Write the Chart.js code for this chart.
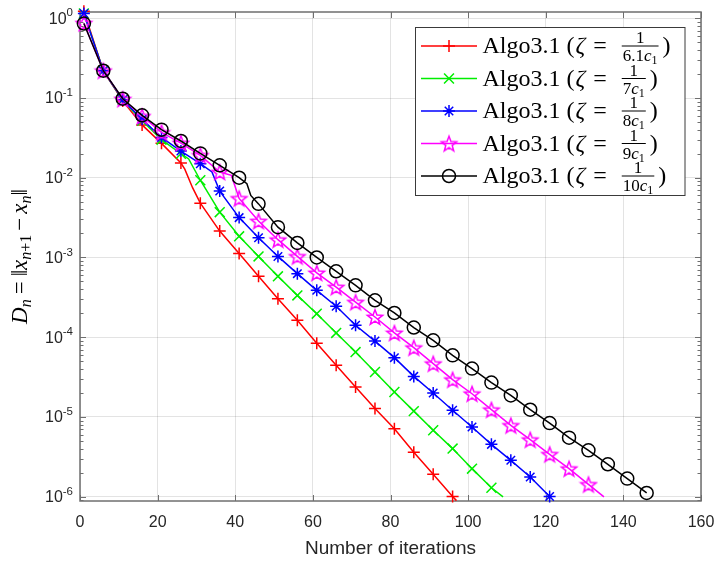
<!DOCTYPE html>
<html lang="en">
<head>
<meta charset="UTF-8" />
<title>Algo3.1 convergence</title>
<script src="https://cdn.jsdelivr.net/npm/chart.js"></script>
<style>
  html, body { margin: 0; padding: 0; background: #fff; }
  #wrap { width: 717px; height: 565px; }
</style>
</head>
<body>
<div id="wrap"><canvas id="chart" width="717" height="565"></canvas></div>
<script>
// values (markers every 5 iterations, plus a few bends)
const iterRed = [1, 6, 11, 16, 21, 26, 27, 29, 31, 36, 41, 46, 51, 56, 61, 66, 71, 76, 81, 86, 91, 96, 97];
const distRed = [1.23, 0.22, 0.092, 0.046, 0.027, 0.0153, 0.0128, 0.0075, 0.0048, 0.00214, 0.00112, 0.00058,
  0.000304, 0.000163, 8.4e-5, 4.43e-5, 2.37e-5, 1.27e-5, 7.1e-6, 3.6e-6, 1.9e-6, 1.0e-6, 8.9e-7];

const iterGreen = [1, 6, 11, 16, 21, 26, 28, 31, 36, 41, 46, 51, 56, 61, 66, 71, 76, 81, 86, 91, 96, 101, 106, 109];
const distGreen = [1.15, 0.22, 0.094, 0.052, 0.030, 0.020, 0.0172, 0.0093, 0.0037, 0.00184, 0.00103, 0.00058,
  0.000334, 0.000197, 0.000113, 6.5e-5, 3.65e-5, 2.05e-5, 1.18e-5, 6.8e-6, 4.0e-6, 2.24e-6, 1.29e-6, 9.9e-7];

const iterBlue = [1, 6, 11, 16, 21, 26, 31, 34, 36, 41, 46, 51, 56, 61, 66, 71, 76, 81, 86, 91, 96, 101, 106, 111, 116, 121];
const distBlue = [1.15, 0.22, 0.095, 0.054, 0.032, 0.0216, 0.015, 0.0118, 0.0068, 0.00316, 0.00177, 0.00103,
  0.000626, 0.000387, 0.000244, 1.41e-4, 8.93e-5, 5.53e-5, 3.22e-5, 1.99e-5, 1.21e-5, 7.45e-6, 4.52e-6,
  2.85e-6, 1.76e-6, 1.0e-6];

const iterMagenta = [1, 6, 11, 16, 21, 26, 31, 36, 39, 41, 46, 51, 56, 61, 66, 71, 76, 81, 86, 91, 96, 101, 106,
  111, 116, 121, 126, 131, 135];
const distMagenta = [0.87, 0.22, 0.097, 0.059, 0.037, 0.0272, 0.0191, 0.0118, 0.0107, 0.0055, 0.00286, 0.00167,
  0.00103, 0.00064, 0.000425, 2.75e-4, 1.79e-4, 1.13e-4, 7.38e-5, 4.65e-5, 2.93e-5, 1.95e-5, 1.23e-5,
  7.82e-6, 5.18e-6, 3.39e-6, 2.24e-6, 1.42e-6, 9.9e-7];

const iterBlack = [1, 6, 11, 16, 21, 26, 31, 36, 41, 43, 44, 46, 51, 56, 61, 66, 71, 76, 81, 86, 91, 96, 101, 106,
  111, 116, 121, 126, 131, 136, 141, 146];
const distBlack = [0.86, 0.22, 0.098, 0.0607, 0.0401, 0.0289, 0.0202, 0.0143, 0.0100, 0.0084, 0.0060, 0.0047,
  0.0024, 0.00152, 0.00100, 0.00067, 4.47e-4, 2.9e-4, 2.01e-4, 1.32e-4, 9.12e-5, 5.91e-5, 4.03e-5, 2.69e-5,
  1.86e-5, 1.23e-5, 8.36e-6, 5.48e-6, 3.8e-6, 2.54e-6, 1.68e-6, 1.11e-6];

const xTicks = [0, 20, 40, 60, 80, 100, 120, 140, 160];
const yTicks = [1e-6, 1e-5, 1e-4, 1e-3, 1e-2, 1e-1, 1];
const zetaDenoms = ['6.1', '7', '8', '9', '10'];

const axisGray = '#6f6f6f';
const textGray = '#262626';
const gridGray = 'rgba(38,38,38,0.13)';
const sans = '"Liberation Sans", Arial, sans-serif';
const serif = '"Liberation Serif", serif';

function makePentagram(color, r) {
  const c = document.createElement('canvas');
  const s = Math.ceil(2 * r + 4);
  c.width = s; c.height = s;
  const g = c.getContext('2d');
  g.translate(s / 2, s / 2 + 0.8);
  g.beginPath();
  for (let i = 0; i < 10; i++) {
    const a = -Math.PI / 2 + i * Math.PI / 5;
    const rr = i % 2 === 0 ? r : r * 0.42;
    g.lineTo(rr * Math.cos(a), rr * Math.sin(a));
  }
  g.closePath();
  g.strokeStyle = color;
  g.lineWidth = 1.5;
  g.stroke();
  return c;
}

const styles = [
  { color: '#ff0000', point: 'cross', radius: 6 },
  { color: '#00ee00', point: 'crossRot', radius: 7 },
  { color: '#0000ff', point: 'star', radius: 6 },
  { color: '#ff00ff', point: makePentagram('#ff00ff', 8), radius: 8 },
  { color: '#000000', point: 'circle', radius: 6.5 }
];
const seriesX = [iterRed, iterGreen, iterBlue, iterMagenta, iterBlack];
const seriesY = [distRed, distGreen, distBlue, distMagenta, distBlack];

const datasets = seriesX.map((xs, i) => ({
  label: 'Algo3.1 (zeta = 1/' + zetaDenoms[i] + 'c1)',
  data: xs.map((x, j) => ({ x: x, y: seriesY[i][j] })),
  borderColor: styles[i].color,
  backgroundColor: 'transparent',
  borderWidth: 1.5,
  pointStyle: styles[i].point,
  pointBorderColor: styles[i].color,
  pointBackgroundColor: 'transparent',
  pointBorderWidth: 1.5,
  pointRadius: ctx => (ctx.raw && ctx.raw.x % 5 === 1 ? styles[i].radius : 0),
  tension: 0,
  clip: false,
  order: 5 - i
}));

// draws pieces of text one after another; returns total width
function richText(ctx, parts, x, y, draw) {
  let w = 0;
  parts.forEach(p => {
    ctx.font = p.font;
    if (draw) ctx.fillText(p.t, x + w, y + (p.dy || 0));
    w += ctx.measureText(p.t).width + (p.gap || 0);
  });
  return w;
}

const framePlugin = {
  id: 'frame',
  beforeDatasetsDraw(chart) {
    const { ctx, chartArea: a, scales: { x, y } } = chart;
    ctx.save();
    ctx.strokeStyle = axisGray;
    ctx.lineWidth = 1;
    ctx.beginPath();
    xTicks.forEach(v => {
      const px = Math.round(x.getPixelForValue(v)) + 0.5;
      ctx.moveTo(px, a.bottom); ctx.lineTo(px, a.bottom - 6);
      ctx.moveTo(px, a.top); ctx.lineTo(px, a.top + 6);
    });
    for (let k = -7; k <= 0; k++) {
      for (let m = 1; m <= 9; m++) {
        const v = m * Math.pow(10, k);
        if (v < y.min || v > y.max) continue;
        const py = Math.round(y.getPixelForValue(v)) + 0.5;
        const len = m === 1 ? 6 : 3.5;
        ctx.moveTo(a.left, py); ctx.lineTo(a.left + len, py);
        ctx.moveTo(a.right, py); ctx.lineTo(a.right - len, py);
      }
    }
    ctx.stroke();
    ctx.lineWidth = 1.5;
    ctx.strokeRect(a.left, a.top, a.right - a.left, a.bottom - a.top);
    ctx.restore();
  }
};

const textPlugin = {
  id: 'texts',
  afterDraw(chart) {
    const { ctx, chartArea: a, scales: { y } } = chart;
    ctx.save();
    ctx.fillStyle = textGray;
    ctx.textBaseline = 'middle';

    // y tick labels 10^k
    yTicks.forEach(v => {
      const py = y.getPixelForValue(v);
      const ex = String(Math.round(Math.log10(v)));
      const parts = [
        { t: '10', font: '16px ' + sans },
        { t: ex, font: '11.5px ' + sans, dy: -6 }
      ];
      const w = richText(ctx, parts, 0, 0, false);
      richText(ctx, parts, a.left - 7 - w, py + 1, true);
    });

    // x axis title
    ctx.textAlign = 'center';
    ctx.font = '19px ' + sans;
    ctx.fillText('Number of iterations', (a.left + a.right) / 2, 549);

    // y axis title  D_n = ||x_{n+1} - x_n||
    ctx.textAlign = 'left';
    ctx.textBaseline = 'alphabetic';
    const it = 'italic 23px ' + serif;
    const rm = '23px ' + serif;
    const sit = 'italic 16px ' + serif;
    const srm = '16px ' + serif;
    const ylab = [
      { t: 'D', font: it }, { t: 'n', font: sit, dy: 4, gap: 5 },
      { t: '=', font: rm, gap: 5 }, { t: '\u2016', font: rm },
      { t: 'x', font: it }, { t: 'n', font: sit, dy: 4 }, { t: '+', font: srm, dy: 4 }, { t: '1', font: srm, dy: 4, gap: 4 },
      { t: '\u2212', font: rm, gap: 4 },
      { t: 'x', font: it }, { t: 'n', font: sit, dy: 4 }, { t: '\u2016', font: rm }
    ];
    const yw = richText(ctx, ylab, 0, 0, false);
    ctx.translate(27, (a.top + a.bottom) / 2);
    ctx.rotate(-Math.PI / 2);
    ctx.fillStyle = '#000';
    richText(ctx, ylab, -yw / 2, 0, true);
    ctx.restore();
  }
};

const legendPlugin = {
  id: 'mathLegend',
  afterDraw(chart) {
    const { ctx, chartArea: a } = chart;
    const bx = a.right - 285.5, by = a.top + 15.5, bw = 269.5, bh = 168;
    ctx.save();
    ctx.fillStyle = '#fff';
    ctx.fillRect(bx, by, bw, bh);
    ctx.strokeStyle = '#3a3a3a';
    ctx.lineWidth = 1;
    ctx.strokeRect(bx, by, bw, bh);
    const big = '24px ' + serif;
    const bigIt = 'italic 24px ' + serif;
    const fr = '17px ' + serif;
    const frIt = 'italic 17px ' + serif;
    const frSub = '12px ' + serif;
    chart.data.datasets.forEach((ds, i) => {
      const cy = by + 18.5 + i * 32.5;
      ctx.strokeStyle = ds.borderColor;
      ctx.lineWidth = 1.5;
      ctx.beginPath();
      ctx.moveTo(bx + 5.5, cy); ctx.lineTo(bx + 61.5, cy);
      ctx.stroke();
      ctx.fillStyle = 'rgba(0,0,0,0)';
      Chart.helpers.drawPoint(ctx, {
        pointStyle: ds.pointStyle, radius: styles[i].radius, borderWidth: 1.5, rotation: 0
      }, bx + 33.5, cy);
      ctx.fillStyle = '#000';
      ctx.textBaseline = 'alphabetic';
      let x = bx + 67;
      x += richText(ctx, [
        { t: 'Algo3.1 (', font: big, gap: 1 },
        { t: '\u03b6', font: bigIt, gap: 8 },
        { t: '=', font: big, gap: 15 }
      ], x, cy + 7, true);
      const den = [{ t: zetaDenoms[i], font: fr }, { t: 'c', font: frIt }, { t: '1', font: frSub, dy: 3 }];
      const dw = richText(ctx, den, 0, 0, false);
      ctx.font = fr;
      const nw = ctx.measureText('1').width;
      ctx.fillText('1', x + 1 + (dw - nw) / 2, cy - 3);
      ctx.fillRect(x, cy - 0.5, dw + 2, 1);
      richText(ctx, den, x + 1, cy + 15, true);
      x += dw + 6;
      ctx.font = big;
      ctx.fillText(')', x, cy + 7);
    });
    ctx.restore();
  }
};

new Chart(document.getElementById('chart'), {
  type: 'line',
  data: { datasets: datasets },
  options: {
    responsive: false,
    animation: false,
    layout: { padding: { left: 0, right: 16, top: 12, bottom: 0 } },
    plugins: { legend: { display: false }, tooltip: { enabled: false } },
    scales: {
      x: {
        type: 'linear',
        min: 0,
        max: 160,
        afterBuildTicks: s => { s.ticks = xTicks.map(v => ({ value: v })); },
        afterFit: s => { s.height = 64; s.paddingLeft = 0; s.paddingRight = 0; },
        grid: { color: gridGray, drawTicks: false },
        border: { display: false },
        ticks: {
          color: textGray,
          padding: 12,
          maxRotation: 0,
          font: { family: sans, size: 16 }
        }
      },
      y: {
        type: 'logarithmic',
        min: 8.8e-7,
        max: 1.2,
        afterBuildTicks: s => { s.ticks = yTicks.map(v => ({ value: v })); },
        afterFit: s => { s.width = 80; s.paddingTop = 0; s.paddingBottom = 0; },
        grid: { color: gridGray, drawTicks: false },
        border: { display: false },
        ticks: { callback: () => '' }
      }
    }
  },
  plugins: [framePlugin, textPlugin, legendPlugin]
});
</script>
</body>
</html>
